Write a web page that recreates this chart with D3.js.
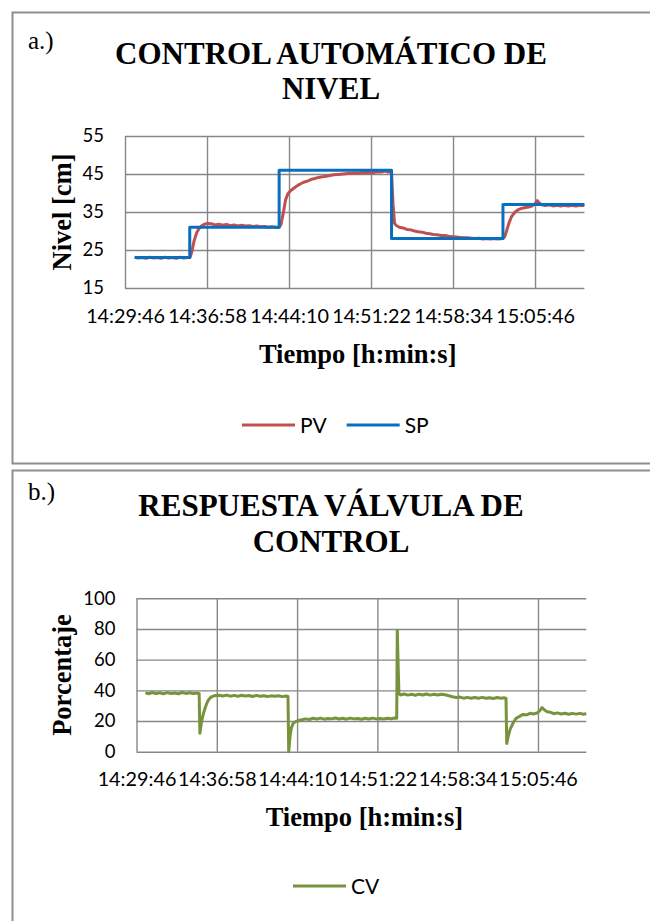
<!DOCTYPE html>
<html>
<head>
<meta charset="utf-8">
<script src="https://cdn.jsdelivr.net/npm/d3@7"></script>
<style>
  body { margin: 0; background: #fff; }
  svg { display: block; }
</style>
</head>
<body>
<svg id="chart" width="650" height="921"></svg>
<script>
// Time axis: seconds elapsed since 14:29:46
const tickLabels = ["14:29:46", "14:36:58", "14:44:10", "14:51:22", "14:58:34", "15:05:46"];
const tickSeconds = [0, 432, 864, 1296, 1728, 2160];
const spanSeconds = 2420;

// Level chart (cm)
const levelTicks = [15, 25, 35, 45, 55];

const pvTime = [51, 70, 90, 110, 130, 150, 170, 190, 210, 230, 250, 270, 290, 310, 330, 342,
  352, 364, 378, 391, 405, 418, 435, 455, 475, 495, 515, 535, 555, 575, 595, 615, 635, 655, 675,
  695, 715, 735, 755, 775, 795, 812, 822, 833, 846, 858, 872, 891, 910, 928, 946, 964, 982, 1000,
  1020, 1040, 1060, 1080, 1100, 1125, 1150, 1175, 1201, 1225, 1250, 1275, 1300, 1325, 1350, 1372,
  1385, 1396, 1404, 1412, 1420, 1428, 1445, 1465, 1485, 1505, 1525, 1545, 1565, 1585, 1605, 1625,
  1645, 1665, 1685, 1705, 1725, 1745, 1765, 1785, 1805, 1825, 1845, 1865, 1885, 1905, 1925, 1945,
  1965, 1990, 2000, 2010, 2022, 2036, 2055, 2075, 2092, 2110, 2128, 2145, 2160, 2172, 2182, 2195,
  2215, 2235, 2255, 2275, 2295, 2315, 2335, 2355, 2375, 2395, 2420];
const pvValue = [23.1, 22.9, 23.0, 22.8, 23.1, 22.9, 23.0, 22.8, 23.1, 22.9, 23.0, 22.8, 23.1, 22.9, 23.0, 23.0,
  24.5, 27.4, 29.6, 30.7, 31.4, 31.8, 32.0, 31.9, 31.6, 31.8, 31.5, 31.7, 31.4, 31.6, 31.3, 31.5, 31.3, 31.4, 31.2,
  31.3, 31.1, 31.2, 31.0, 31.1, 30.9, 31.0, 31.8, 34.5, 38.2, 39.8, 40.6, 41.3, 42.0, 42.5, 42.9, 43.2, 43.6, 43.8,
  44.1, 44.3, 44.4, 44.6, 44.8, 44.9, 45.0, 45.1, 45.2, 45.2, 45.3, 45.4, 45.3, 45.5, 45.5, 45.8,
  45.5, 45.6, 45.3, 37.0, 32.0, 31.5, 31.0, 30.8, 30.4, 30.3, 30.0, 29.8, 29.7, 29.4, 29.3, 29.1,
  29.0, 28.8, 28.8, 28.6, 28.5, 28.4, 28.3, 28.2, 28.2, 28.1, 28.0, 28.1, 27.9, 28.0, 27.9, 28.0,
  27.9, 28.0, 28.5, 30.0, 32.0, 33.8, 35.0, 35.7, 36.0, 36.2, 36.3, 36.6, 37.2, 38.0, 37.4, 36.9,
  36.7, 36.9, 36.6, 36.8, 36.6, 36.8, 36.6, 36.8, 36.6, 36.8, 36.7];

const spTime = [51, 341, 812, 1404, 1991, 2420];
const spValue = [23, 31, 46, 28, 37, 37];

// Valve chart (%)
const pctTicks = [0, 20, 40, 60, 80, 100];

const cvTime = [48, 65, 85, 105, 125, 145, 165, 185, 205, 225, 245, 265, 285, 305, 325, 337,
  341, 350, 360, 368, 378, 387, 396, 405, 425, 443, 465, 485, 505, 525, 545, 565, 585, 605, 625,
  645, 665, 685, 705, 725, 745, 765, 785, 805, 815, 819, 826, 833, 843, 856, 870, 890, 910, 930,
  950, 970, 990, 1010, 1030, 1050, 1070, 1090, 1110, 1130, 1150, 1170, 1190, 1210, 1230, 1250,
  1270, 1290, 1310, 1330, 1350, 1370, 1390, 1400, 1403, 1408, 1412, 1420, 1440, 1460, 1480, 1500,
  1520, 1540, 1560, 1580, 1600, 1620, 1640, 1660, 1680, 1700, 1720, 1740, 1760, 1780, 1800, 1820,
  1840, 1860, 1880, 1900, 1920, 1940, 1960, 1980, 1988, 1992, 2000, 2010, 2025, 2042, 2060, 2080,
  2100, 2117, 2135, 2155, 2170, 2182, 2195, 2210, 2228, 2245, 2265, 2285, 2305, 2325, 2345, 2365,
  2385, 2405, 2420];
const cvValue = [38.5, 37.8, 38.6, 37.9, 38.4, 37.7, 38.5, 38.0, 38.3, 37.8, 38.6, 38.0, 38.4, 37.9, 38.2, 38.0,
  12.0, 19.6, 25.0, 28.0, 31.5, 33.7, 35.0, 35.9, 36.6, 36.8, 36.3, 36.9, 36.2, 36.7, 36.1, 36.8, 36.3, 36.6, 36.0,
  36.7, 36.2, 36.5, 36.0, 36.4, 36.1, 36.5, 35.9, 36.3, 36.0, 0.0, 10.0, 15.5, 18.5, 19.6, 20.3, 20.8, 21.4, 21.0,
  21.8, 21.3, 21.9, 21.2, 21.7, 21.4, 22.0, 21.3, 21.8, 21.2, 21.9, 21.4, 21.7, 21.2, 21.8, 21.3,
  21.9, 21.4, 21.7, 21.3, 21.8, 21.5, 22.0, 21.8, 79.0, 55.0, 38.0, 37.0, 37.6, 36.9, 37.4, 36.8,
  37.5, 37.0, 37.6, 36.9, 37.4, 37.0, 37.5, 37.1, 36.5, 35.8, 35.3, 35.6, 34.9, 35.4, 34.8, 35.3,
  34.9, 35.4, 34.8, 35.2, 34.7, 35.3, 34.8, 35.1, 34.9, 5.4, 10.0, 14.5, 18.5, 21.7, 23.0, 24.3,
  24.0, 25.0, 24.6, 25.2, 26.8, 28.7, 27.2, 26.0, 25.7, 24.8, 25.3, 24.6, 25.1, 24.4, 25.0, 24.5,
  25.0, 24.4, 24.8];

const svg = d3.select("#chart");
const GRID = "#878787";
const TICK_FONT = "Lato, 'Open Sans', sans-serif";
const SERIF = "'Liberation Serif', 'Times New Roman', serif";

function panel(cfg) {
  const g = svg.append("g");

  // frame around the panel (right and lower edges run past the page)
  g.append("rect")
    .attr("x", 12.5).attr("y", cfg.boxTop + 0.5)
    .attr("width", 700).attr("height", cfg.boxHeight)
    .attr("fill", "none").attr("stroke", "#8e8e8e").attr("stroke-width", 2);

  g.append("text").attr("x", 28).attr("y", cfg.tagY)
    .attr("font-family", SERIF).attr("font-size", 25).text(cfg.tag);

  cfg.title.forEach((line, i) => {
    g.append("text").attr("x", 331).attr("y", cfg.titleY[i])
      .attr("text-anchor", "middle").attr("font-family", SERIF)
      .attr("font-weight", "bold").attr("font-size", 31).text(line);
  });

  const x = d3.scaleLinear().domain([0, spanSeconds]).range([cfg.left, cfg.right]);
  const y = d3.scaleLinear().domain(cfg.yDomain).range([cfg.bottom, cfg.top]);
  const h = cfg.bottom - cfg.top;

  // horizontal gridlines
  g.append("g").attr("transform", `translate(${cfg.left},0)`)
    .call(d3.axisLeft(y).tickValues(cfg.yTicks).tickSize(-(cfg.right - cfg.left)).tickFormat(""))
    .call(a => a.select(".domain").remove())
    .call(a => a.selectAll("line").attr("stroke", GRID).attr("stroke-width", 1.4));

  // vertical gridlines
  g.append("g").attr("transform", `translate(0,${cfg.bottom})`)
    .call(d3.axisBottom(x).tickValues(tickSeconds).tickSize(-h).tickFormat(""))
    .call(a => a.select(".domain").remove())
    .call(a => a.selectAll("line").attr("stroke", GRID).attr("stroke-width", 1.4));

  // y tick labels
  g.append("g").attr("transform", `translate(${cfg.left - 21},0)`)
    .call(d3.axisLeft(y).tickValues(cfg.yTicks).tickSize(0).tickPadding(0))
    .call(a => a.select(".domain").remove())
    .call(a => a.selectAll("text").attr("font-family", TICK_FONT).attr("font-size", 18.5).attr("fill", "#000"));

  // x tick labels
  g.append("g").attr("transform", `translate(0,${cfg.bottom})`)
    .call(d3.axisBottom(x).tickValues(tickSeconds).tickFormat((d, i) => tickLabels[i]).tickSize(0).tickPadding(0))
    .call(a => a.select(".domain").remove())
    .call(a => a.selectAll("text").attr("dy", null).attr("y", cfg.xLabelDy)
      .attr("font-family", TICK_FONT).attr("font-size", 19.8).attr("fill", "#000"));

  // axis titles
  g.append("text").attr("x", (cfg.left + cfg.right) / 2 + 3).attr("y", cfg.xTitleY)
    .attr("text-anchor", "middle").attr("font-family", SERIF).attr("font-weight", "bold")
    .attr("font-size", 26.5).text("Tiempo [h:min:s]");
  g.append("text")
    .attr("transform", `translate(71,${(cfg.top + cfg.bottom) / 2}) rotate(-90)`)
    .attr("text-anchor", "middle").attr("font-family", SERIF).attr("font-weight", "bold")
    .attr("font-size", 26.5).text(cfg.yTitle);

  // series
  cfg.series.forEach(s => {
    const pts = s.t.map((t, i) => [t, s.v[i]]);
    g.append("path").datum(pts)
      .attr("fill", "none").attr("stroke", s.color).attr("stroke-width", s.width)
      .attr("stroke-linejoin", "round")
      .attr("d", d3.line().x(d => x(d[0])).y(d => y(d[1])).curve(s.curve || d3.curveLinear));
  });

  // legend
  let lx = cfg.legendX;
  cfg.series.forEach(s => {
    g.append("line").attr("x1", lx).attr("x2", lx + 53).attr("y1", cfg.legendY).attr("y2", cfg.legendY)
      .attr("stroke", s.color).attr("stroke-width", 3);
    const t = g.append("text").attr("x", lx + 58).attr("y", cfg.legendY + 7.5)
      .attr("font-family", TICK_FONT).attr("font-size", 21).text(s.name);
    lx += 58 + t.node().getComputedTextLength() + 20;
  });
}

panel({
  boxTop: 12, boxHeight: 451, tag: "a.)", tagY: 49,
  title: ["CONTROL AUTOMÁTICO DE", "NIVEL"], titleY: [64, 99],
  left: 125, right: 584.4, top: 136, bottom: 288,
  yDomain: [15, 55], yTicks: levelTicks, xLabelDy: 35, xTitleY: 363,
  yTitle: "Nivel [cm]", legendX: 242, legendY: 425,
  series: [
    { name: "PV", t: pvTime, v: pvValue, color: "#C0504D", width: 3 },
    { name: "SP", t: spTime, v: spValue, color: "#0A6EBE", width: 3, curve: d3.curveStepAfter }
  ]
});

panel({
  boxTop: 470, boxHeight: 500, tag: "b.)", tagY: 500,
  title: ["RESPUESTA VÁLVULA DE", "CONTROL"], titleY: [516, 552],
  left: 136.5, right: 586.3, top: 598.3, bottom: 751.7,
  yDomain: [0, 100], yTicks: pctTicks, xLabelDy: 34, xTitleY: 826,
  yTitle: "Porcentaje", legendX: 293, legendY: 886,
  series: [
    { name: "CV", t: cvTime, v: cvValue, color: "#77933C", width: 3 }
  ]
});
</script>
</body>
</html>
